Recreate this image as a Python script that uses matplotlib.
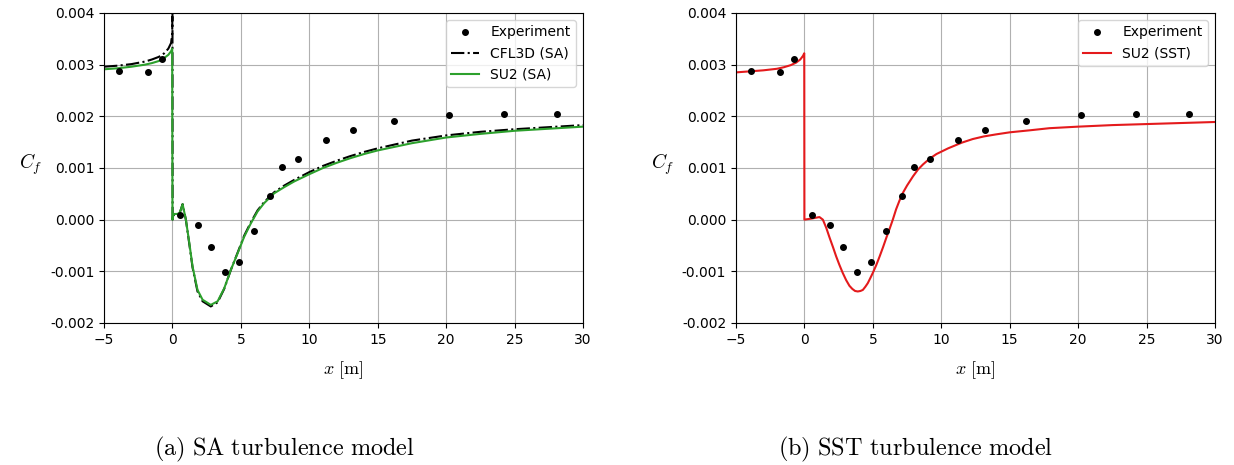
import matplotlib
matplotlib.use("Agg")
import matplotlib.pyplot as plt

plt.rcParams["mathtext.fontset"] = "cm"

# ── Experimental skin friction (same data in both panels) ─────────────────────
x_exp = [-3.9, -1.8, -0.75, 0.55, 1.85, 2.85, 3.85, 4.85, 5.95, 7.1,
         8.0, 9.2, 11.2, 13.2, 16.2, 20.2, 24.2, 28.1]
cf_exp = [0.00288, 0.00285, 0.00311, 0.00009, -0.00011, -0.00052, -0.00102,
          -0.00082, -0.00022, 0.00045, 0.00102, 0.00118, 0.00154, 0.00173,
          0.00191, 0.00202, 0.00204, 0.00205]

# ── SA model: CFL3D ──────────────────────────────────────────────────────────
x_cfl3d = [-5, -4, -3, -2, -1.5, -1, -0.6, -0.3, -0.1, -0.02, 0.0, 0.01,
           0.1, 0.3, 0.5, 0.62, 0.74, 0.98, 1.23, 1.47, 1.83, 2.2, 2.8,
           3.3, 3.78, 4.27, 4.76, 5.24, 5.73, 6.22, 6.7, 7.43, 8.17, 8.9,
           10, 11, 12, 13, 14, 15, 17.5, 20, 22.5, 25, 27.5, 30]
cf_cfl3d = [0.00296, 0.00298, 0.00301, 0.00306, 0.00310, 0.00315, 0.00322,
            0.00331, 0.00342, 0.00360, 0.00410, 0.0, 0.00010, 0.00010,
            0.00011, 0.00020, 0.00030, 0.00000, -0.00047, -0.00093,
            -0.00139, -0.00158, -0.00168, -0.00160, -0.00134, -0.00097,
            -0.00064, -0.00031, -0.00005, 0.00018, 0.00034, 0.00053,
            0.00066, 0.00077, 0.00092, 0.00104, 0.00114, 0.00123, 0.00131,
            0.00138, 0.00153, 0.00163, 0.00170, 0.00175, 0.00179, 0.00183]

# ── SA model: SU2 ─────────────────────────────────────────────────────────────
x_su2_sa = [-5, -4, -3, -2, -1.5, -1, -0.6, -0.3, -0.1, -0.02, 0.0, 0.02,
            0.1, 0.3, 0.5, 0.62, 0.74, 0.98, 1.23, 1.47, 1.83, 2.2, 2.8,
            3.3, 3.78, 4.27, 4.76, 5.24, 5.73, 6.22, 6.7, 7.43, 8.17, 8.9,
            10, 11, 12, 13, 14, 15, 17.5, 20, 22.5, 25, 27.5, 30]
cf_su2_sa = [0.00291, 0.00293, 0.00296, 0.00300, 0.00303, 0.00307, 0.00313,
             0.00319, 0.00326, 0.00331, 0.0, 0.00005, 0.00011, 0.00011,
             0.00012, 0.00020, 0.00030, 0.00000, -0.00045, -0.00091,
             -0.00136, -0.00155, -0.00165, -0.00158, -0.00133, -0.00097,
             -0.00065, -0.00033, -0.00007, 0.00016, 0.00032, 0.00051,
             0.00063, 0.00074, 0.00088, 0.00100, 0.00110, 0.00119, 0.00127,
             0.00134, 0.00148, 0.00159, 0.00166, 0.00172, 0.00176, 0.00180]

# ── SST model: SU2 ────────────────────────────────────────────────────────────
x_su2_sst = [-5, -4, -3, -2, -1.5, -1, -0.6, -0.3, -0.1, -0.01, 0.0, 0.5,
             0.9, 1.1, 1.35, 1.6, 1.83, 2.1, 2.32, 2.55, 2.8, 3.05, 3.29,
             3.5, 3.7, 3.9, 4.1, 4.27, 4.45, 4.63, 4.8, 5.0, 5.25, 5.5,
             5.75, 6.0, 6.25, 6.46, 6.7, 6.95, 7.2, 7.5, 7.94, 8.3, 8.67,
             9.15, 9.65, 10.5, 11.5, 12.3, 13.1, 14, 15, 16.5, 17.9, 20,
             22.5, 25, 27.5, 30]
cf_su2_sst = [0.00285, 0.00287, 0.00289, 0.00292, 0.00295, 0.00299, 0.00304,
              0.00310, 0.00317, 0.00322, 0.0, 0.00002, 0.00004, 0.00005,
              0.0, -0.00016, -0.00034, -0.00054, -0.00071, -0.00087,
              -0.00103, -0.00117, -0.00128, -0.00134, -0.00138, -0.00139,
              -0.00138, -0.00136, -0.00130, -0.00123, -0.00114, -0.00103,
              -0.00088, -0.00071, -0.00053, -0.00034, -0.00016, 0.0,
              0.00020, 0.00037, 0.00052, 0.00066, 0.00084, 0.00097, 0.00107,
              0.00118, 0.00127, 0.00138, 0.00149, 0.00156, 0.00161, 0.00165,
              0.00169, 0.00173, 0.00177, 0.00180, 0.00183, 0.00185, 0.00187,
              0.00189]


def style_axes(ax):
    ax.set_xlim(-5, 30)
    ax.set_ylim(-0.002, 0.004)
    ax.set_xticks(range(-5, 31, 5))
    ax.set_yticks([-0.002, -0.001, 0.0, 0.001, 0.002, 0.003, 0.004])
    ax.yaxis.set_major_formatter(plt.FormatStrFormatter("%.3f"))
    ax.grid(True, color="#b0b0b0", linewidth=0.8)
    ax.set_axisbelow(True)
    ax.set_xlabel(r"$x\ [\mathrm{m}]$", fontsize=13, labelpad=9)
    ax.set_ylabel(r"$C_f$", fontsize=14, rotation=0)
    ax.yaxis.set_label_coords(-0.152, 0.47)


fig = plt.figure(figsize=(12.34, 4.65), dpi=100)
ax_sa = fig.add_axes([0.0843, 0.3054, 0.3882, 0.6667])
ax_sst = fig.add_axes([0.5964, 0.3054, 0.3882, 0.6667])

# Left panel: Spalart-Allmaras
ax_sa.plot(x_exp, cf_exp, "k.", markersize=8, label="Experiment", zorder=5)
ax_sa.plot(x_cfl3d, cf_cfl3d, "k-.", linewidth=1.5, label="CFL3D (SA)")
ax_sa.plot(x_su2_sa, cf_su2_sa, color="#2ca02c", linewidth=1.5, label="SU2 (SA)")
style_axes(ax_sa)
ax_sa.legend(loc="upper right", fontsize=10)

# Right panel: Menter SST
ax_sst.plot(x_exp, cf_exp, "k.", markersize=8, label="Experiment", zorder=5)
ax_sst.plot(x_su2_sst, cf_su2_sst, color="#e41a1c", linewidth=1.5, label="SU2 (SST)")
style_axes(ax_sst)
ax_sst.legend(loc="upper right", fontsize=10)

fig.text(285 / 1234, 1 - 449 / 465, r"$\mathrm{(a)\ SA\ turbulence\ model}$",
         ha="center", va="center", fontsize=17.5)
fig.text(916 / 1234, 1 - 449 / 465, r"$\mathrm{(b)\ SST\ turbulence\ model}$",
         ha="center", va="center", fontsize=17.5)

fig.savefig("out.png", dpi=100)
